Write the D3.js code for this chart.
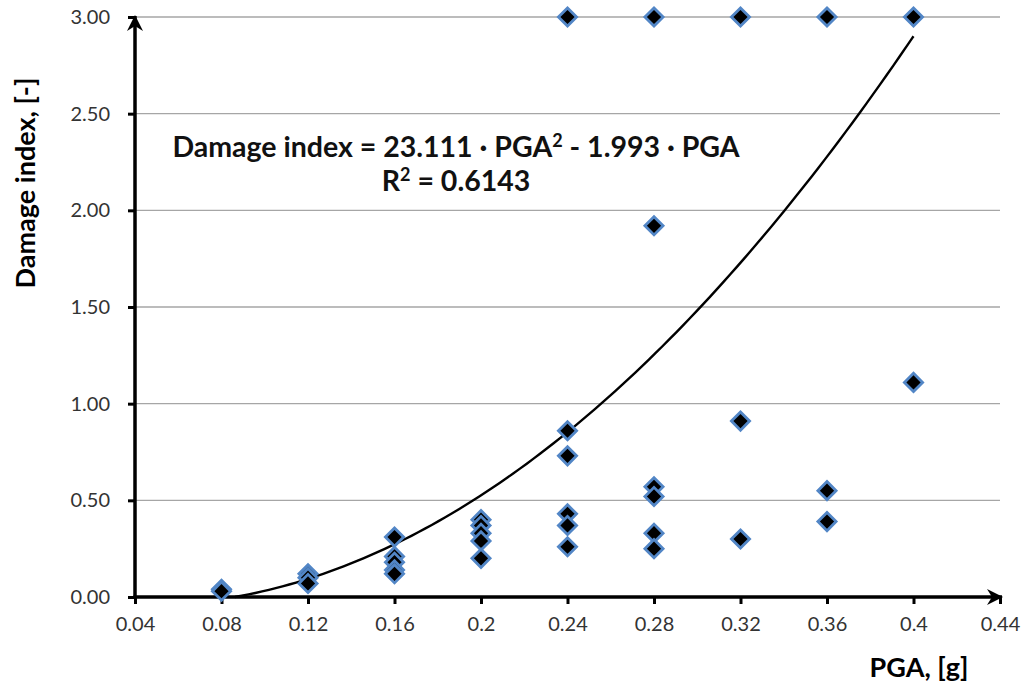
<!DOCTYPE html>
<html>
<head>
<meta charset="utf-8">
<script src="https://cdn.jsdelivr.net/npm/d3@7"></script>
<style>
  body { margin: 0; background: #fff; }
  svg { display: block; font-family: Lato, "Open Sans", sans-serif; }
  .tick text { fill: #333; font-size: 20px; }
</style>
</head>
<body>
<div id="chart"></div>
<script>
// PGA values (x) and damage index (y)
const pga = [
    0.08, 0.08,
    0.12, 0.12, 0.12,
    0.16, 0.16, 0.16, 0.16, 0.16,
    0.2, 0.2, 0.2, 0.2, 0.2,
    0.24, 0.24, 0.24, 0.24, 0.24, 0.24,
    0.28, 0.28, 0.28, 0.28, 0.28, 0.28,
    0.32, 0.32, 0.32,
    0.36, 0.36, 0.36,
    0.4, 0.4
];
const damage = [
    0.04, 0.03,
    0.12, 0.10, 0.07,
    0.31, 0.21, 0.18, 0.14, 0.12,
    0.40, 0.37, 0.33, 0.29, 0.20,
    3.00, 0.86, 0.73, 0.43, 0.37, 0.26,
    3.00, 1.92, 0.57, 0.52, 0.33, 0.25,
    3.00, 0.91, 0.30,
    3.00, 0.55, 0.39,
    3.00, 1.11
];
const xTicks = [0.04, 0.08, 0.12, 0.16, 0.2, 0.24, 0.28, 0.32, 0.36, 0.4, 0.44];
const yTicks = [0, 0.5, 1, 1.5, 2, 2.5, 3];
// trend line: a*PGA^2 + b*PGA
const fitA = 23.111, fitB = -1.993;
const fitLabel = ["Damage index = 23.111 \u00b7 PGA", "2", " - 1.993 \u00b7 PGA"];
const r2Label = "0.6143";

const W = 1024, H = 687;
const svg = d3.select("#chart").append("svg")
    .attr("width", W)
    .attr("height", H);

const x = d3.scaleLinear().domain([0.04, 0.44]).range([135, 1000]);
const y = d3.scaleLinear().domain([0, 3]).range([597, 17]);

// gridlines
svg.append("g")
    .selectAll("line")
    .data(yTicks.slice(1))
    .join("line")
    .attr("x1", x(0.04)).attr("x2", x(0.44))
    .attr("y1", d => y(d)).attr("y2", d => y(d))
    .attr("stroke", "#a6a6a6")
    .attr("stroke-width", 1.3);

// arrow head
const defs = svg.append("defs");
defs.append("marker")
    .attr("id", "arrow")
    .attr("viewBox", "0 0 20 20")
    .attr("refX", 17).attr("refY", 10)
    .attr("markerWidth", 20).attr("markerHeight", 20)
    .attr("markerUnits", "userSpaceOnUse")
    .attr("orient", "auto")
    .append("path")
    .attr("d", "M2,2 L18,10 L2,18 L7,10 Z")
    .attr("fill", "#000");

// axes
const yAxis = svg.append("g")
    .attr("transform", `translate(${x(0.04)},0)`)
    .call(d3.axisLeft(y).tickValues(yTicks).tickFormat(d3.format(".2f")).tickSize(7).tickPadding(18));
const xAxis = svg.append("g")
    .attr("transform", `translate(0,${y(0)})`)
    .call(d3.axisBottom(x).tickValues(xTicks).tickFormat(d => String(+d.toFixed(2))).tickSize(7).tickPadding(13));

[yAxis, xAxis].forEach(ax => {
    ax.select(".domain").remove();
    ax.selectAll(".tick line").attr("stroke", "#000").attr("stroke-width", 3);
    ax.selectAll(".tick text").style("font-family", "Lato, sans-serif");
});

svg.append("line")
    .attr("x1", x(0.04)).attr("x2", x(0.04))
    .attr("y1", y(0) + 1.5).attr("y2", y(3) - 1)
    .attr("stroke", "#000").attr("stroke-width", 3.5)
    .attr("marker-end", "url(#arrow)");
svg.append("line")
    .attr("x1", x(0.04) - 1.5).attr("x2", x(0.44) + 2)
    .attr("y1", y(0)).attr("y2", y(0))
    .attr("stroke", "#000").attr("stroke-width", 3.5)
    .attr("marker-end", "url(#arrow)");

// trend curve
const x0 = -fitB / fitA;
const curvePts = d3.range(0, 101).map(i => {
    const p = x0 + (0.4 - x0) * i / 100;
    return [p, fitA * p * p + fitB * p];
});
svg.append("path")
    .datum(curvePts)
    .attr("fill", "none")
    .attr("stroke", "#000")
    .attr("stroke-width", 2.4)
    .attr("d", d3.line().x(d => x(d[0])).y(d => y(d[1])).curve(d3.curveBasis));

// points
const diamond = d3.symbol().type(d3.symbolSquare).size(165);
svg.append("g")
    .selectAll("path")
    .data(pga.map((p, i) => [p, damage[i]]))
    .join("path")
    .attr("d", diamond)
    .attr("transform", d => `translate(${x(d[0])},${y(d[1])}) rotate(45)`)
    .attr("fill", "#000")
    .attr("stroke", "#5286c6")
    .attr("stroke-width", 2.8);

// equation
const eq = svg.append("text")
    .attr("x", 456).attr("y", 157)
    .attr("text-anchor", "middle")
    .style("font-weight", "bold").style("font-size", "28.5px").attr("fill", "#111");
eq.append("tspan").text(fitLabel[0]);
eq.append("tspan").attr("dy", -10).style("font-size", "18px").text(fitLabel[1]);
eq.append("tspan").attr("dy", 10).text(fitLabel[2]);

const r2 = svg.append("text")
    .attr("x", 456).attr("y", 191)
    .attr("text-anchor", "middle")
    .style("font-weight", "bold").style("font-size", "28.5px").attr("fill", "#111");
r2.append("tspan").text("R");
r2.append("tspan").attr("dy", -10).style("font-size", "18px").text("2");
r2.append("tspan").attr("dy", 10).text(" = " + r2Label);

// axis titles
svg.append("text")
    .attr("transform", `translate(35,183) rotate(-90)`)
    .attr("text-anchor", "middle")
    .style("font-weight", "bold").style("font-size", "27px")
    .text("Damage index, [-]");
svg.append("text")
    .attr("x", 919).attr("y", 677)
    .attr("text-anchor", "middle")
    .style("font-weight", "bold").style("font-size", "27px")
    .text("PGA, [g]");
</script>
</body>
</html>
